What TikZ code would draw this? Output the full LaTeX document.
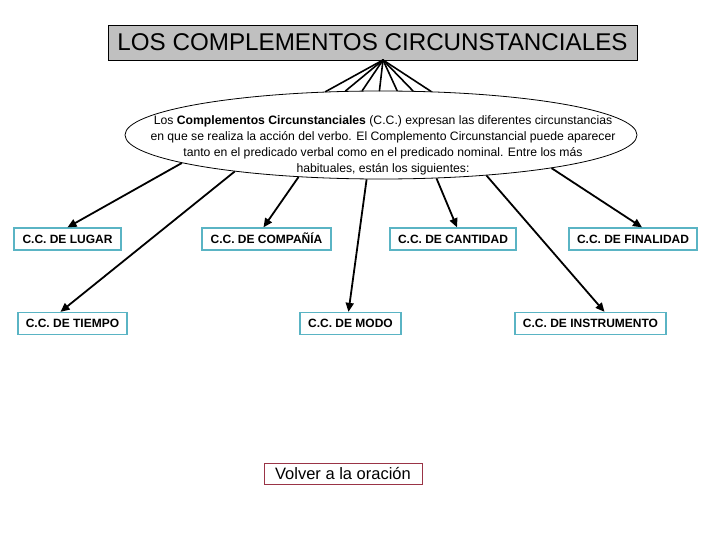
\documentclass[tikz,border=0pt]{standalone}
\usepackage{fontspec}
\setmainfont{Liberation Sans}
\usetikzlibrary{arrows.meta,shapes.geometric}
\definecolor{titlegray}{HTML}{C0C0C0}
\definecolor{boxcyan}{HTML}{5AB4C4}
\definecolor{linkred}{HTML}{9A3446}

\begin{document}
\begin{tikzpicture}[x=1pt,y=-1pt]
\tikzset{
  titlebox/.style={rectangle,draw=black,fill=titlegray,line width=0.9pt,minimum width=529pt,minimum height=35pt,inner sep=0pt,font=\fontsize{24.2}{28}\selectfont},
  ellnode/.style={ellipse,draw=black,line width=0.8pt,minimum width=512pt,minimum height=88pt,inner sep=0pt},
  desctext/.style={align=center,inner sep=0pt,font=\fontsize{12.2}{16}\selectfont},
  ccbox/.style={rectangle,draw=boxcyan,line width=1.3pt,minimum height=22pt,inner sep=0pt,text height=8.6pt,text depth=0pt,font=\bfseries\fontsize{12}{14}\selectfont},
  linkbox/.style={rectangle,draw=linkred,line width=1pt,minimum height=21pt,minimum width=158pt,inner sep=0pt,font=\fontsize{16.5}{19}\selectfont},
  spoke/.style={draw=black,line width=1.6pt,line cap=round},
  branch/.style={draw=black,line width=1.8pt,-{Triangle[length=9pt,width=8pt]}}
}
\useasboundingbox[fill=white] (0,0) rectangle (720,540);
\node[titlebox] (n_title) at (372.5,42.5) {LOS COMPLEMENTOS CIRCUNSTANCIALES};
\coordinate (n_apex) at (383,60);
\node[ellnode] (n_ell) at (381,135) {};
\node[desctext] (n_desc) at (383,145) {Los \textbf{Complementos Circunstanciales} (C.C.) expresan las diferentes circunstancias\\
en que se realiza la acción del verbo. El Complemento Circunstancial puede aparecer\\
tanto en el predicado verbal como en el predicado nominal. Entre los más\\
habituales, están los siguientes:};
\node[ccbox,minimum width=107pt] (n_lugar) at (67.5,239) {C.C. DE LUGAR};
\node[ccbox,minimum width=129pt] (n_compania) at (266.5,239) {C.C. DE COMPAÑÍA};
\node[ccbox,minimum width=126pt] (n_cantidad) at (453,239) {C.C. DE CANTIDAD};
\node[ccbox,minimum width=128pt] (n_finalidad) at (633,239) {C.C. DE FINALIDAD};
\node[ccbox,minimum width=109pt] (n_tiempo) at (72.5,323.5) {C.C. DE TIEMPO};
\node[ccbox,minimum width=101pt] (n_modo) at (350.5,323.5) {C.C. DE MODO};
\node[ccbox,minimum width=151pt] (n_instrumento) at (590.5,323.5) {C.C. DE INSTRUMENTO};
\node[linkbox] (n_volver) at (343,473.5) {Volver a la oración};
% spokes from the title to the ellipse
\foreach \a in {142.5,129.5,113.4,92.6,70.0,54.6,41.4}
  \draw[spoke] (n_apex) -- (n_ell.\a);
% branches to the boxes
\draw[branch] (n_ell.188.5) -- (n_lugar.north);
\draw[branch] (n_ell.194.6) -- ([xshift=-12pt]n_tiempo.north);
\draw[branch] (n_ell.207.2) -- ([xshift=-3pt]n_compania.north);
\draw[branch] (n_ell.252.3) -- ([xshift=-2pt]n_modo.north);
\draw[branch] (n_ell.322) -- ([xshift=4pt]n_cantidad.north);
\draw[branch] (n_ell.339.3) -- ([xshift=14pt]n_instrumento.north);
\draw[branch] (n_ell.349.2) -- ([xshift=9pt]n_finalidad.north);
\end{tikzpicture}
\end{document}
